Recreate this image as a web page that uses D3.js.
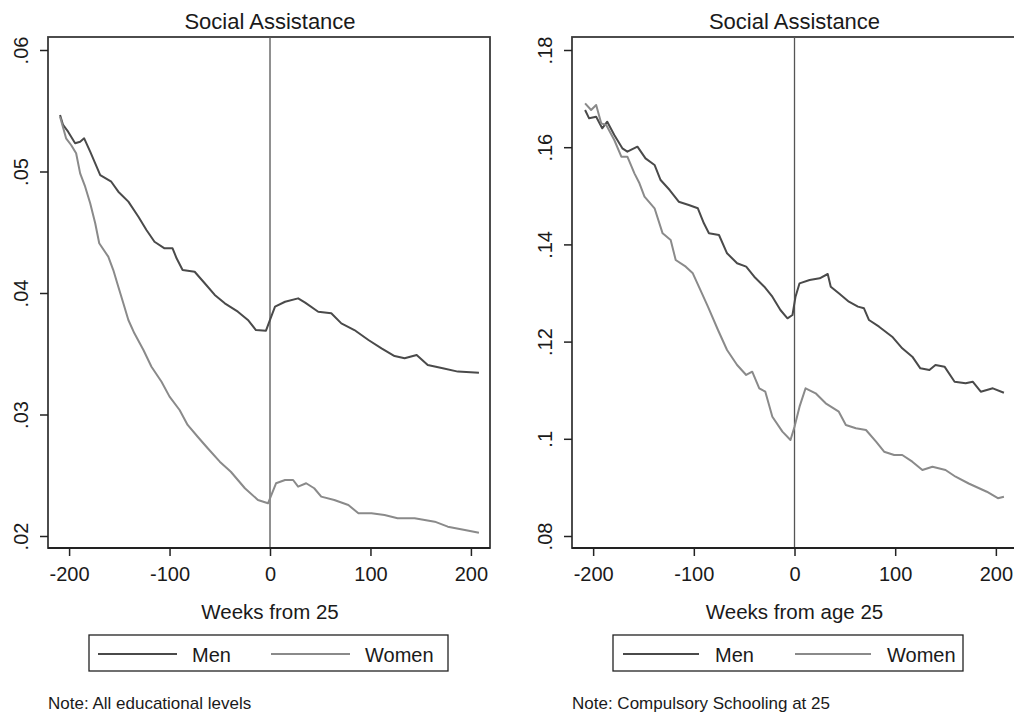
<!DOCTYPE html>
<html>
<head>
<meta charset="utf-8">
<script src="https://cdn.jsdelivr.net/npm/d3@7"></script>
<style>
  html, body { margin: 0; padding: 0; background: #fff; }
  svg { display: block; font-family: "Liberation Sans", Arial, Helvetica, sans-serif; }
</style>
</head>
<body>
<svg id="chart" width="1014" height="716"></svg>
<script>
// Weekly social assistance take-up around the 25th birthday, by sex.
// Each series: [weeks from age 25, share receiving social assistance].

const menAll = [
  [-209,0.05465],[-206,0.05383],[-201,0.05328],[-194,0.05232],[-189,0.05245],[-185,0.05273],
  [-179,0.05163],[-174,0.05067],[-169,0.04971],[-158,0.04916],[-151,0.04834],[-141,0.04752],
  [-131,0.04628],[-123,0.04519],[-115,0.04422],[-105,0.04368],[-97,0.04368],[-93,0.04286],
  [-87,0.04189],[-75,0.04175],[-65,0.04080],[-55,0.03984],[-45,0.03915],[-32,0.03846],
  [-22,0.03778],[-14,0.03695],[-4,0.03690],[0,0.03778],[5,0.03887],[15,0.03928],
  [28,0.03956],[35,0.03921],[48,0.03846],[61,0.03833],[71,0.03750],[84,0.03695],
  [98,0.03613],[111,0.03545],[124,0.03481],[134,0.03463],[146,0.03490],[157,0.03407],
  [172,0.03380],[187,0.03353],[208,0.03344]
];

const womenAll = [
  [-209,0.05450],[-203,0.05273],[-198,0.05218],[-193,0.05150],[-189,0.04985],[-184,0.04875],
  [-179,0.04738],[-174,0.04574],[-170,0.04409],[-161,0.04299],[-156,0.04189],[-151,0.04052],
  [-146,0.03915],[-141,0.03778],[-135,0.03668],[-126,0.03531],[-118,0.03393],[-108,0.03270],
  [-100,0.03147],[-90,0.03037],[-82,0.02914],[-72,0.02817],[-62,0.02722],[-50,0.02612],
  [-39,0.02529],[-25,0.02393],[-12,0.02296],[-2,0.02269],[0,0.02310],[6,0.02434],
  [15,0.02461],[23,0.02461],[28,0.02406],[36,0.02434],[44,0.02393],[51,0.02324],
  [64,0.02296],[78,0.02255],[88,0.02187],[101,0.02187],[114,0.02173],[127,0.02146],
  [144,0.02146],[164,0.02118],[177,0.02077],[194,0.02049],[208,0.02027]
];

const menCompulsory = [
  [-208,0.16765],[-204,0.16594],[-197,0.16628],[-191,0.16389],[-186,0.16525],[-179,0.16251],
  [-171,0.15977],[-166,0.15908],[-156,0.16011],[-148,0.15771],[-139,0.15634],[-133,0.15325],
  [-124,0.15119],[-115,0.14879],[-105,0.14811],[-96,0.14743],[-90,0.14434],[-85,0.14228],
  [-75,0.14193],[-67,0.13817],[-57,0.13611],[-48,0.13542],[-40,0.13336],[-30,0.13130],
  [-22,0.12924],[-14,0.12650],[-7,0.12479],[-2,0.12547],[1,0.12924],[5,0.13199],
  [15,0.13267],[25,0.13302],[33,0.13391],[36,0.13130],[44,0.12993],[54,0.12822],
  [63,0.12719],[69,0.12685],[74,0.12444],[84,0.12307],[97,0.12101],[107,0.11862],
  [117,0.11690],[125,0.11450],[134,0.11416],[140,0.11519],[149,0.11484],[159,0.11175],
  [170,0.11142],[177,0.11175],[185,0.10969],[197,0.11039],[208,0.10948]
];

const womenCompulsory = [
  [-208,0.16903],[-202,0.16765],[-197,0.16868],[-192,0.16491],[-187,0.16457],[-179,0.16148],
  [-172,0.15805],[-166,0.15805],[-159,0.15462],[-154,0.15257],[-149,0.14982],[-139,0.14743],
  [-131,0.14228],[-123,0.14091],[-118,0.13679],[-108,0.13542],[-101,0.13405],[-95,0.13130],
  [-86,0.12719],[-76,0.12239],[-67,0.11827],[-57,0.11519],[-48,0.11313],[-42,0.11381],
  [-35,0.11039],[-29,0.10969],[-22,0.10455],[-12,0.10147],[-4,0.09975],[0,0.10249],
  [5,0.10661],[11,0.11039],[21,0.10936],[31,0.10730],[44,0.10558],[51,0.10284],
  [61,0.10216],[71,0.10181],[81,0.09940],[89,0.09735],[99,0.09667],[107,0.09667],
  [117,0.09529],[127,0.09358],[137,0.09426],[150,0.09358],[160,0.09220],[173,0.09080],
  [191,0.08911],[202,0.08778],[208,0.08809]
];

const xTicks = [-200, -100, 0, 100, 200];
const yTicksAll = [0.02, 0.03, 0.04, 0.05, 0.06];
const yLabelsAll = [".02", ".03", ".04", ".05", ".06"];
const yTicksCompulsory = [0.08, 0.10, 0.12, 0.14, 0.16, 0.18];
const yLabelsCompulsory = [".08", ".1", ".12", ".14", ".16", ".18"];
const seriesNames = ["Men", "Women"];
const titles = ["Social Assistance", "Social Assistance"];
const xTitles = ["Weeks from 25", "Weeks from age 25"];
const notes = ["Note: All educational levels", "Note: Compulsory Schooling at 25"];

const colors = { Men: "#4a4a4a", Women: "#8a8a8a" };

const panels = [
  {
    left: 48, right: 490, top: 37, bottom: 548,
    xDomain: [-221, 219], yTicks: yTicksAll, yLabels: yLabelsAll,
    yDomain: [0.02, 0.06], yRange: [536, 50],
    series: [menAll, womenAll], title: titles[0], xTitle: xTitles[0], note: notes[0],
    legend: { x: 89, w: 359, line: 79, pad: 9, gap: 15, second: 173 }
  },
  {
    left: 572, right: 1015, top: 37, bottom: 548,
    xDomain: [-221, 219], yTicks: yTicksCompulsory, yLabels: yLabelsCompulsory,
    yDomain: [0.08, 0.18], yRange: [536, 50],
    series: [menCompulsory, womenCompulsory], title: titles[1], xTitle: xTitles[1], note: notes[1],
    legend: { x: 613, w: 350, line: 76, pad: 10, gap: 16, second: 172 }
  }
];

const svg = d3.select("#chart");

panels.forEach(p => {
  const g = svg.append("g");
  const x = d3.scaleLinear().domain(p.xDomain).range([p.left, p.right]);
  const y = d3.scaleLinear().domain(p.yDomain).range(p.yRange);

  // plot region frame
  g.append("rect")
    .attr("x", p.left).attr("y", p.top)
    .attr("width", p.right - p.left).attr("height", p.bottom - p.top)
    .attr("fill", "none").attr("stroke", "#3a3a3a").attr("stroke-width", 1.8);

  // reference line at age 25
  g.append("line")
    .attr("x1", x(0)).attr("x2", x(0))
    .attr("y1", p.top).attr("y2", p.bottom)
    .attr("stroke", "#555").attr("stroke-width", 1.3);

  // series
  const line = d3.line().x(d => x(d[0])).y(d => y(d[1]));
  p.series.forEach((s, i) => {
    g.append("path")
      .datum(s)
      .attr("d", line)
      .attr("fill", "none")
      .attr("stroke", colors[seriesNames[i]])
      .attr("stroke-width", 2)
      .attr("stroke-linejoin", "round");
  });

  // y axis
  const yAxis = d3.axisLeft(y)
    .tickValues(p.yTicks)
    .tickFormat((d, i) => p.yLabels[i])
    .tickSize(8).tickPadding(12);
  const ya = g.append("g").attr("transform", `translate(${p.left},0)`).call(yAxis);
  ya.select(".domain").remove();
  ya.selectAll(".tick line").attr("stroke", "#222").attr("stroke-width", 1.5);
  ya.selectAll(".tick text")
    .attr("x", null).attr("dy", null)
    .attr("text-anchor", "middle")
    .attr("transform", "translate(-20,0) rotate(-90)")
    .attr("font-size", 20)
    .attr("fill", "#1a1a1a")
    .style("font-family", "inherit");

  // x axis
  const xAxis = d3.axisBottom(x)
    .tickValues(xTicks)
    .tickFormat(d3.format("d"))
    .tickSize(8).tickPadding(6);
  const xa = g.append("g").attr("transform", `translate(0,${p.bottom})`).call(xAxis);
  xa.select(".domain").remove();
  xa.selectAll(".tick line").attr("stroke", "#222").attr("stroke-width", 1.5);
  xa.selectAll(".tick text")
    .attr("dy", null).attr("y", 33)
    .attr("font-size", 20)
    .attr("fill", "#1a1a1a")
    .style("font-family", "inherit")
    .text(d => d < 0 ? "-" + Math.abs(d) : d);

  // bottom axis line drawn over the frame
  g.append("line")
    .attr("x1", p.left).attr("x2", p.right)
    .attr("y1", p.bottom).attr("y2", p.bottom)
    .attr("stroke", "#222").attr("stroke-width", 2);

  const cx = x(0);

  // title
  g.append("text")
    .attr("x", cx).attr("y", 29)
    .attr("text-anchor", "middle")
    .attr("font-size", 22)
    .attr("fill", "#1a1a1a")
    .text(p.title);

  // x axis title
  g.append("text")
    .attr("x", cx).attr("y", 619)
    .attr("text-anchor", "middle")
    .attr("font-size", 20.5)
    .attr("fill", "#1a1a1a")
    .text(p.xTitle);

  // legend
  const L = p.legend;
  const lg = g.append("g");
  lg.append("rect")
    .attr("x", L.x).attr("y", 635)
    .attr("width", L.w).attr("height", 36)
    .attr("fill", "#fff").attr("stroke", "#222").attr("stroke-width", 1.3);
  seriesNames.forEach((name, i) => {
    const x0 = L.x + L.pad + i * L.second;
    lg.append("line")
      .attr("x1", x0).attr("x2", x0 + L.line)
      .attr("y1", 654).attr("y2", 654)
      .attr("stroke", colors[name]).attr("stroke-width", 2);
    lg.append("text")
      .attr("x", x0 + L.line + L.gap).attr("y", 662)
      .attr("font-size", 20)
      .attr("fill", "#1a1a1a")
      .text(name);
  });

  // note
  g.append("text")
    .attr("x", p.left).attr("y", 709)
    .attr("font-size", 17)
    .attr("fill", "#1a1a1a")
    .text(p.note);
});
</script>
</body>
</html>
